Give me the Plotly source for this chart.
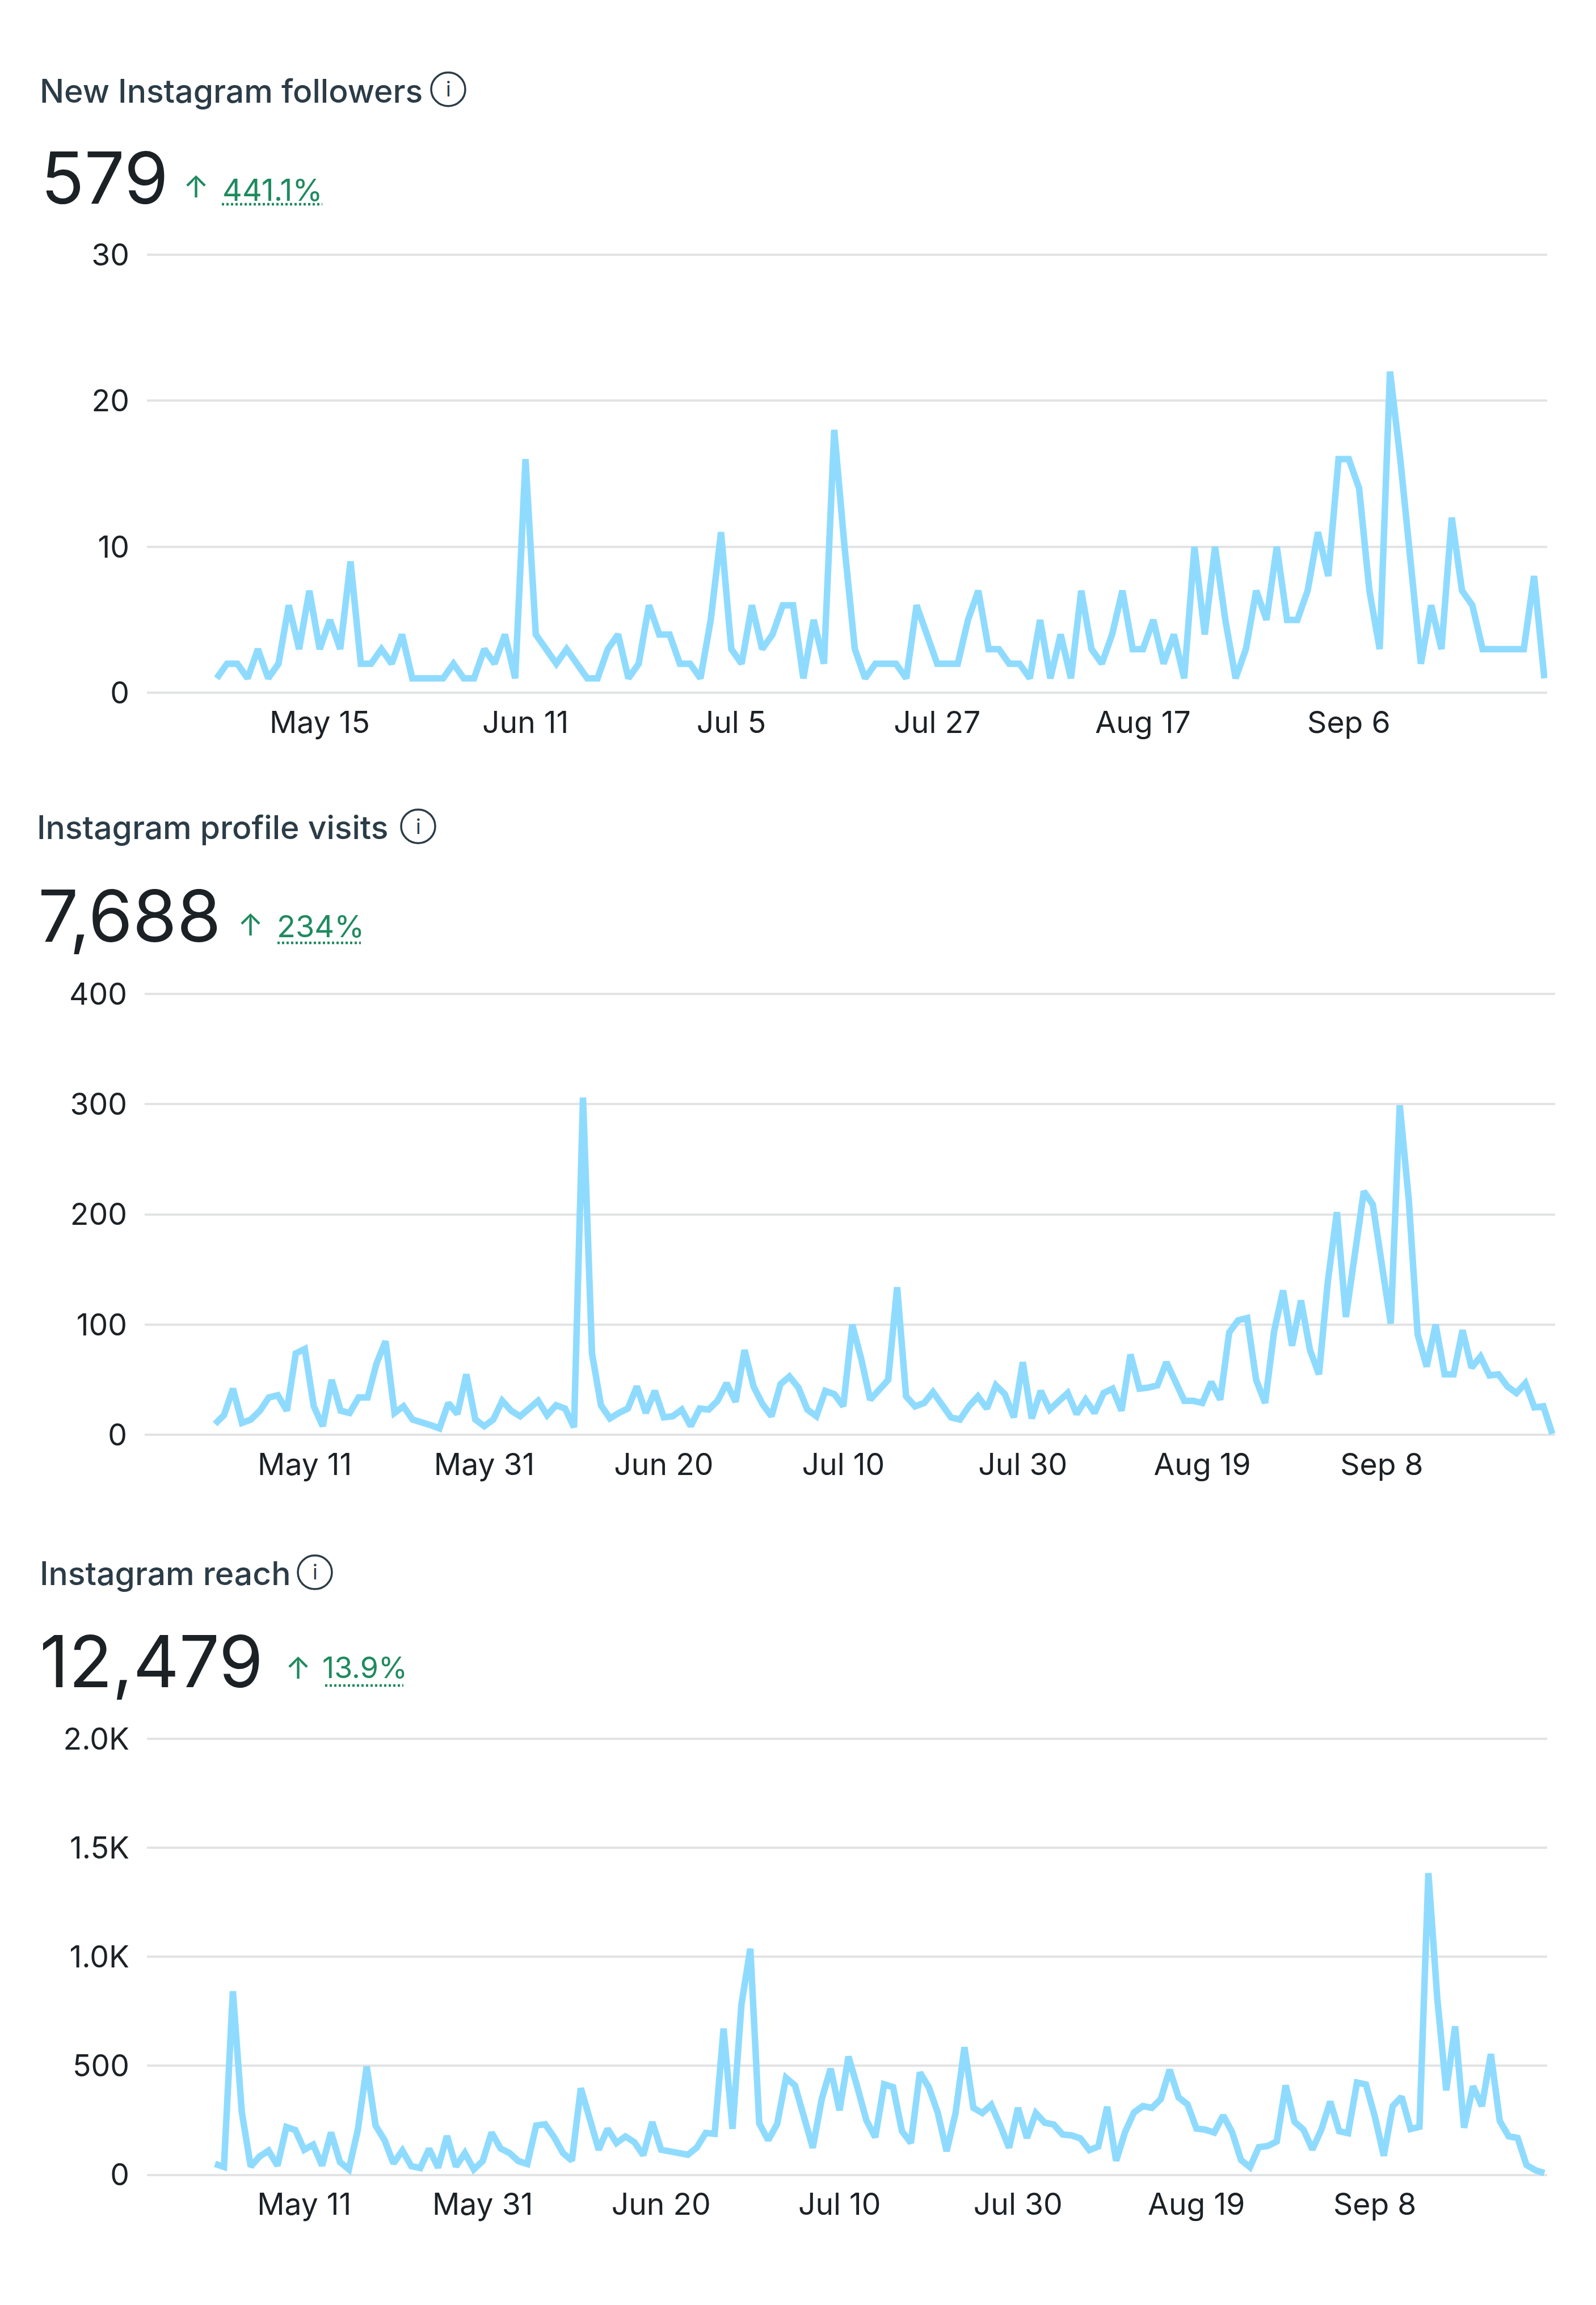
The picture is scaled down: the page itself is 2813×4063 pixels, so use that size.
import plotly.graph_objects as go

WIDTH = 2813
HEIGHT = 4063

# Daily values
followers = [1, 2, 2, 1, 3, 1, 2, 6, 3, 7, 3, 5, 3, 9, 2, 2, 3, 2, 4, 1,
             1, 1, 1, 2, 1, 1, 3, 2, 4, 1, 16, 4, 3, 2, 3, 2, 1, 1, 3, 4,
             1, 2, 6, 4, 4, 2, 2, 1, 5, 11, 3, 2, 6, 3, 4, 6, 6, 1, 5, 2,
             18, 10, 3, 1, 2, 2, 2, 1, 6, 4, 2, 2, 2, 5, 7, 3, 3, 2, 2, 1,
             5, 1, 4, 1, 7, 3, 2, 4, 7, 3, 3, 5, 2, 4, 1, 10, 4, 10, 5, 1,
             3, 7, 5, 10, 5, 5, 7, 11, 8, 16, 16, 14, 7, 3, 22, 16, 9, 2, 6, 3,
             12, 7, 6, 3, 3, 3, 3, 3, 8, 1]

profile_visits = [10, 18, 42, 11, 14, 22, 34, 36, 22, 74, 78, 26, 8, 50, 22, 20, 34, 34, 65, 85,
                  20, 26, 14, 12, 9, 6, 29, 19, 55, 14, 8, 14, 31, 22, 17, 24, 31, 18, 27, 24,
                  7, 306, 74, 27, 15, 20, 24, 44, 20, 40, 16, 17, 23, 8, 24, 23, 31, 47, 30, 77,
                  44, 28, 17, 46, 53, 43, 23, 17, 40, 37, 26, 100, 69, 32, 42, 50, 134, 35, 26, 29,
                  39, 27, 16, 14, 26, 35, 24, 45, 37, 16, 66, 15, 40, 23, 30, 38, 19, 32, 20, 38,
                  42, 22, 73, 42, 43, 45, 66, 50, 31, 31, 29, 48, 32, 93, 104, 106, 50, 29, 94, 131,
                  81, 122, 77, 55, 140, 202, 107, 164, 221, 209, 154, 101, 299, 214, 91, 62, 100, 55, 55, 95,
                  61, 71, 54, 55, 44, 38, 47, 25, 26, 1]

reach = [50, 36, 842, 288, 38, 84, 111, 42, 219, 205, 115, 138, 42, 194, 59, 25, 205, 497, 226, 159,
         52, 111, 40, 31, 119, 33, 178, 38, 100, 25, 63, 194, 121, 100, 63, 50, 226, 232, 173, 100,
         65, 397, 257, 115, 211, 146, 176, 150, 90, 242, 115, 107, 94, 92, 125, 192, 188, 671, 211, 780,
         1037, 236, 159, 232, 445, 410, 267, 124, 347, 487, 296, 542, 402, 251, 172, 415, 402, 200, 146, 469,
         402, 286, 108, 283, 585, 307, 283, 321, 227, 124, 307, 169, 283, 239, 231, 185, 181, 167, 113, 130,
         312, 64, 196, 286, 315, 307, 347, 482, 355, 323, 212, 207, 194, 272, 196, 68, 35, 127, 132, 153,
         410, 243, 207, 116, 207, 336, 200, 191, 423, 414, 267, 87, 315, 358, 210, 220, 1384, 808, 387, 681,
         216, 406, 315, 554, 247, 177, 169, 45, 21, 8]

followers_dates = ['May 15', 'Jun 11', 'Jul 5', 'Jul 27', 'Aug 17', 'Sep 6']
visits_dates = ['May 11', 'May 31', 'Jun 20', 'Jul 10', 'Jul 30', 'Aug 19', 'Sep 8']
reach_dates = ['May 11', 'May 31', 'Jun 20', 'Jul 10', 'Jul 30', 'Aug 19', 'Sep 8']

followers_ticks = [10, 30, 50, 70, 90, 110]
visits_ticks = [10, 30, 50, 70, 90, 110, 130]
reach_ticks = [10, 30, 50, 70, 90, 110, 130]

LINE_COLOR = '#8fdbff'
GRID_COLOR = '#e2e3e4'
TEXT_COLOR = '#1c2126'
TITLE_COLOR = '#2b3c47'
GREEN = '#1f8a5f'
FONT = 'Inter'
GRID_PAD = 8
RIGHT_PAD = 5

panels = [
    dict(title='New Instagram followers', total='579', change='441.1%', change_size=54, values=followers,
         dates=followers_dates, ticks=followers_ticks, yticks=[0, 10, 20, 30],
         ylabels=['0', '10', '20', '30'], left=259, right=2722, top=429, bottom=1211,
         start=382, title_xy=(69, 137), icon=(790, 134), total_xy=(71, 292),
         arrow=(345, 307), change_xy=(391, 313), under=(391, 568, 339)),
    dict(title='Instagram profile visits', total='7,688', change='234%', change_size=54, values=profile_visits,
         dates=visits_dates, ticks=visits_ticks, yticks=[0, 100, 200, 300, 400],
         ylabels=['0', '100', '200', '300', '400'], left=255, right=2736, top=1748, bottom=2535,
         start=379, title_xy=(64, 1451), icon=(737, 1449), total_xy=(66, 1608),
         arrow=(441, 1624), change_xy=(487, 1627), under=(489, 636, 1657)),
    dict(title='Instagram reach', total='12,479', change='13.9%', change_size=52, values=reach,
         dates=reach_dates, ticks=reach_ticks, yticks=[0, 500, 1000, 1500, 2000],
         ylabels=['0', '500', '1.0K', '1.5K', '2.0K'], left=259, right=2722, top=3077, bottom=3855,
         start=379, title_xy=(69, 2782), icon=(555, 2780), total_xy=(69, 2938),
         arrow=(525, 2950), change_xy=(567, 2950), under=(573, 711, 2982)),
]


def px_x(x):
    return x / WIDTH


def px_y(y):
    return 1 - y / HEIGHT


def text(x, y, label, size, color, xanchor='left', weight=400):
    return dict(x=px_x(x), y=px_y(y), xref='paper', yref='paper', text=label, showarrow=False,
                xanchor=xanchor, yanchor='middle', align='left', borderpad=0,
                font=dict(family=FONT, size=size, color=color, weight=weight))


fig = go.Figure()
annotations = []
shapes = []

for n, panel in enumerate(panels):
    suffix = '' if n == 0 else str(n + 1)
    count = len(panel['values'])
    step = (panel['right'] - panel['start']) / (count - 1)

    # plotly drops gridlines sitting right on the plot edge, so leave a few pixels around them
    low, high = panel['yticks'][0], panel['yticks'][-1]
    per_px = (high - low) / (panel['bottom'] - panel['top'])

    fig.add_trace(go.Scatter(
        x=list(range(count)),
        y=panel['values'],
        mode='lines',
        line=dict(color=LINE_COLOR, width=11.5),
        cliponaxis=False,
        hoverinfo='skip',
        xaxis='x' + suffix,
        yaxis='y' + suffix,
    ))

    fig.update_layout({
        'xaxis' + suffix: dict(
            domain=[px_x(panel['left']), px_x(panel['right'] + RIGHT_PAD)],
            range=[-(panel['start'] - panel['left']) / step, count - 1 + RIGHT_PAD / step],
            anchor='y' + suffix,
            tickmode='array',
            tickvals=panel['ticks'],
            ticktext=panel['dates'],
            showgrid=False,
            zeroline=False,
            showline=False,
            ticks='',
            ticklabelstandoff=8,
            tickfont=dict(family=FONT, size=53.5, color=TEXT_COLOR),
        ),
        'yaxis' + suffix: dict(
            domain=[px_y(panel['bottom'] + GRID_PAD), px_y(panel['top'] - GRID_PAD)],
            range=[low - GRID_PAD * per_px, high + GRID_PAD * per_px],
            anchor='x' + suffix,
            tickmode='array',
            tickvals=panel['yticks'],
            ticktext=panel['ylabels'],
            showgrid=True,
            gridcolor=GRID_COLOR,
            gridwidth=3.5,
            zeroline=False,
            showline=False,
            ticks='',
            ticklabelstandoff=30,
            tickfont=dict(family=FONT, size=53.5, color=TEXT_COLOR),
        ),
    })

    annotations.append(text(*panel['title_xy'], panel['title'], 57, TITLE_COLOR, weight=500))
    annotations.append(text(*panel['total_xy'], panel['total'], 126, TEXT_COLOR))
    annotations.append(text(*panel['arrow'], '↑', 54, GREEN, xanchor='center'))
    annotations.append(text(*panel['change_xy'], panel['change'], panel['change_size'], GREEN))
    annotations.append(text(*panel['icon'], 'i', 36, TITLE_COLOR, xanchor='center'))

    cx, cy = panel['icon']
    shapes.append(dict(type='circle', xref='paper', yref='paper',
                       x0=px_x(cx - 30), x1=px_x(cx + 30), y0=px_y(cy + 30), y1=px_y(cy - 30),
                       line=dict(color=TITLE_COLOR, width=3.5)))
    x0, x1, uy = panel['under']
    shapes.append(dict(type='line', xref='paper', yref='paper',
                       x0=px_x(x0), x1=px_x(x1), y0=px_y(uy), y1=px_y(uy),
                       line=dict(color=GREEN, width=4.5, dash='4px,4px')))

fig.update_layout(
    width=WIDTH,
    height=HEIGHT,
    autosize=False,
    margin=dict(l=0, r=0, t=0, b=0),
    paper_bgcolor='white',
    plot_bgcolor='white',
    showlegend=False,
    annotations=annotations,
    shapes=shapes,
)

fig.write_html("out.html", config=dict(displayModeBar=False),
               post_script="document.body.style.margin='0';")
